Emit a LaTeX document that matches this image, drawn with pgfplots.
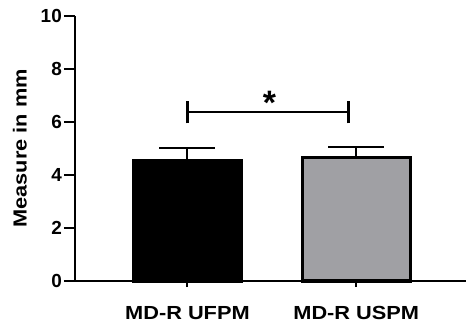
\documentclass[border=0pt]{standalone}
\usepackage{pgfplots}
\pgfplotsset{compat=1.18}
\usepackage{fontspec}
\setmainfont{Liberation Sans}
\definecolor{bargray}{RGB}{160,160,164}
\begin{document}
\begin{tikzpicture}
\path[use as bounding box] (0,0) rectangle (467bp,322bp);
\begin{axis}[
  at={(75bp,41bp)}, anchor=south west,
  scale only axis, width=391bp, height=265bp,
  xmin=-0.666, xmax=1.65, ymin=0, ymax=10,
  enlargelimits=false, clip=false,
  axis lines=left,
  axis line style={-, line width=2.5bp, black},
  tick align=outside,
  major tick length=11bp,
  tick style={line width=2bp, black},
  x tick style={yshift=5bp},
  ytick={0,2,4,6,8,10},
  xtick={0,1},
  xticklabels={{\scalebox{1.15}[1]{MD-R UFPM}},{\scalebox{1.15}[1]{MD-R USPM}}},
  /pgf/number format/assume math mode=true,
  ticklabel style={font=\fontsize{19}{21}\selectfont\bfseries},
  yticklabel style={inner sep=2bp},
  xticklabel style={inner sep=2bp, yshift=-12bp},
  ylabel={\scalebox{1.15}[1]{Measure in mm}},
  ylabel style={font=\fontsize{19}{21}\selectfont\bfseries, at={(axis description cs:-0.141,0.5)}, anchor=center},
]
\addplot[ybar, bar shift=0pt, bar width=108bp, fill=black, draw=black, line width=3bp,
  error bars/.cd, y dir=plus, y explicit,
  error bar style={line width=2bp, black},
  error mark options={rotate=90, mark size=28bp, line width=2bp, black}]
  coordinates {(0,4.55) +- (0,0.45)};
\addplot[ybar, bar shift=0pt, bar width=108bp, fill=bargray, draw=black, line width=3bp,
  error bars/.cd, y dir=plus, y explicit,
  error bar style={line width=2bp, black},
  error mark options={rotate=90, mark size=28bp, line width=2bp, black}]
  coordinates {(1,4.66) +- (0,0.40)};
\addplot[black, line width=2.5bp] coordinates {(0,6.37) (0.955,6.37)};
\addplot[black, line width=2.5bp] coordinates {(0,5.95) (0,6.8)};
\addplot[black, line width=2.5bp] coordinates {(0.955,5.95) (0.955,6.8)};
\node[anchor=base, inner sep=0pt, font=\fontsize{34}{34}\selectfont\bfseries] at (axis cs:0.486,6.3) {*};
\end{axis}
\end{tikzpicture}
\end{document}
